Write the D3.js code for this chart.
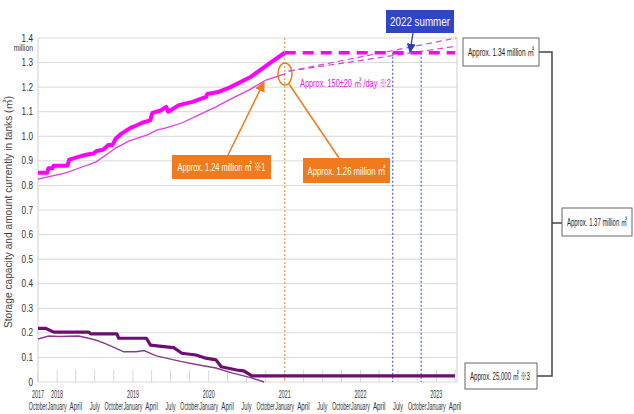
<!DOCTYPE html>
<html><head><meta charset="utf-8">
<script src="https://cdn.jsdelivr.net/npm/d3@7"></script>
<style>
body{margin:0;background:#fff}
svg{display:block}
</style>
</head><body>
<svg id="c" width="634" height="414"></svg>
<script>
// ---------- data ----------
const capacityDates = ["2017-10-01","2017-11-15","2017-11-20","2017-12-10","2017-12-15","2018-02-20","2018-02-28","2018-04-10","2018-05-20","2018-06-25","2018-07-10","2018-08-10","2018-09-05","2018-09-25","2018-10-10","2018-11-05","2018-12-20","2019-01-20","2019-02-15","2019-03-25","2019-04-05","2019-05-15","2019-06-10","2019-06-20","2019-08-10","2019-10-15","2019-12-20","2019-12-25","2020-02-15","2020-04-15","2020-07-20","2020-10-25","2021-01-01"];
const capacityValues = [0.852,0.852,0.87,0.87,0.88,0.88,0.905,0.915,0.925,0.93,0.94,0.945,0.965,0.965,0.99,1.01,1.034,1.045,1.055,1.065,1.095,1.105,1.12,1.10,1.127,1.14,1.16,1.172,1.18,1.20,1.241,1.30,1.34];

const storedDates = ["2017-10-01","2018-02-12","2018-05-01","2018-07-06","2018-08-24","2018-10-10","2018-12-12","2019-01-31","2019-03-18","2019-04-25","2019-06-09","2019-08-24","2019-11-15","2020-02-05","2020-04-20","2020-07-12","2020-10-03","2020-11-01","2021-01-06"];
const storedValues = [0.826,0.851,0.875,0.895,0.924,0.952,0.98,0.995,1.008,1.025,1.034,1.054,1.087,1.12,1.153,1.188,1.229,1.237,1.255];

const planDates = ["2021-01-01","2023-04-01"];
const planValues = [1.34,1.34];

const projDates = ["2021-01-20","2023-04-08"];
const projHighValues = [1.265,1.40];
const projLowValues = [1.265,1.367];

const srCapDates = ["2017-10-01","2017-11-08","2017-12-16","2018-06-03","2018-06-12","2018-10-16","2018-10-25","2019-03-07","2019-03-27","2019-05-19","2019-07-16","2019-08-06","2019-08-24","2019-11-01","2019-12-18","2020-02-05","2020-03-01","2020-05-15","2020-06-18","2020-07-27","2023-04-01"];
const srCapValues = [0.218,0.218,0.203,0.203,0.196,0.196,0.178,0.178,0.15,0.145,0.14,0.128,0.117,0.11,0.097,0.09,0.062,0.049,0.045,0.025,0.025];

const srStoredDates = ["2017-10-01","2017-11-22","2018-01-10","2018-04-15","2018-07-06","2018-08-24","2018-10-10","2018-11-18","2019-01-15","2019-02-24","2019-04-12","2019-05-04","2019-08-24","2019-11-15","2020-02-05","2020-04-21","2020-07-12","2020-09-24"];
const srStoredValues = [0.175,0.187,0.185,0.187,0.171,0.155,0.138,0.123,0.123,0.128,0.11,0.104,0.083,0.069,0.057,0.037,0.02,0.0];

const markerDates = ["2021-01-01","2022-06-05","2022-10-20"];

const yTickValues = [0,0.1,0.2,0.3,0.4,0.5,0.6,0.7,0.8,0.9,1.0,1.1,1.2,1.3,1.4];
const yTickLabels = ["0","0.1","0.2","0.3","0.4","0.5","0.6","0.7","0.8","0.9","1.0","1.1","1.2","1.3","1.4"];
const monthLabels = {0:"January",3:"April",6:"July",9:"October"};
const yAxisTitle = "Storage capacity and amount currently in tanks (㎥)";

// ---------- setup ----------
const FONT = "Liberation Sans, Noto Sans CJK JP, sans-serif";
const parse = d3.timeParse("%Y-%m-%d");
const zip = (ds, vs) => ds.map((d,i)=>({date:parse(d), v:vs[i]}));
const svg = d3.select("#c");
const x = d3.scaleTime().domain([parse("2017-10-01"), parse("2023-04-01")]).range([38, 455]);
const y = d3.scaleLinear().domain([0, 1.4]).range([382, 38]);
const xL = 38, xR = 457;

// narrow text: scaled horizontally so its width equals w (or by factor f)
function ntext(parent, tx, ty, str, size, opts){
  opts = opts || {};
  const t = parent.append("text").attr("font-family",FONT).attr("font-size",size)
    .attr("fill",opts.fill||"#333").attr("text-anchor",opts.anchor||"start").text(str);
  const nat = t.node().getComputedTextLength();
  const f = opts.w ? opts.w/nat : (opts.f||0.75);
  t.attr("transform",`translate(${tx},${ty}) scale(${f},1)`);
  return t;
}

const defs = svg.append("defs");
function marker(id, color){
  defs.append("marker").attr("id",id).attr("viewBox","0 0 10 10").attr("refX",9).attr("refY",5)
    .attr("markerWidth",7).attr("markerHeight",7).attr("orient","auto-start-reverse")
    .append("path").attr("d","M0,0 L10,5 L0,10 z").attr("fill",color);
}
marker("arrO","#F07A1C");
marker("arrB","#2A3FB0");

// gridlines
svg.append("g").selectAll("line").data(yTickValues).join("line")
  .attr("x1",xL).attr("x2",xR).attr("y1",d=>y(d)).attr("y2",d=>y(d))
  .attr("stroke","#d9d9d9").attr("stroke-width",1);
svg.append("line").attr("x1",xL).attr("x2",xL).attr("y1",y(1.4)).attr("y2",y(0)).attr("stroke","#d0d0d0");
svg.append("line").attr("x1",xR).attr("x2",xR).attr("y1",y(1.4)).attr("y2",y(0)).attr("stroke","#d0d0d0");

// y tick labels
const gy = svg.append("g");
yTickValues.forEach((v,i)=>ntext(gy,33,y(v)+3.5,yTickLabels[i],10.5,{anchor:"end",f:0.78}));
ntext(gy,33,y(1.4)+13,"million",9.5,{anchor:"end",f:0.72});

// y title
svg.append("text").attr("transform",`translate(12,${212}) rotate(-90)`).attr("text-anchor","middle")
  .attr("font-family",FONT).attr("font-size",10.2).attr("fill","#444")
  .text(yAxisTitle);

// x ticks
const qTicks = d3.timeMonth.every(3).range(parse("2017-10-01"), parse("2023-04-02"));
svg.append("g").selectAll("line").data(qTicks).join("line")
  .attr("x1",d=>x(d)).attr("x2",d=>x(d)).attr("y1",y(0)-12).attr("y2",y(0))
  .attr("stroke","#d9d9d9");
const gx = svg.append("g");
const mw = {0:19,3:12.5,6:10,9:18.5};
qTicks.forEach((d,i)=>{
  ntext(gx,x(d),410,monthLabels[d.getMonth()],10,{anchor:"middle",w:mw[d.getMonth()]});
  if(i===0 || d.getMonth()===0) ntext(gx,x(d),398,String(d.getFullYear()),10,{anchor:"middle",w:12});
});

// vertical marker lines
svg.append("line").attr("x1",x(parse(markerDates[0]))).attr("x2",x(parse(markerDates[0])))
  .attr("y1",y(1.4)).attr("y2",y(0)).attr("stroke","#F5A04A").attr("stroke-width",1.2).attr("stroke-dasharray","2,2");
[markerDates[1],markerDates[2]].forEach(md=>{
  svg.append("line").attr("x1",x(parse(md))).attr("x2",x(parse(md)))
    .attr("y1",y(1.34)).attr("y2",y(0)).attr("stroke","#4A64E0").attr("stroke-width",1.2).attr("stroke-dasharray","2,2");
});

const line = d3.line().x(d=>x(d.date)).y(d=>y(d.v));

// purple series
svg.append("path").datum(zip(srStoredDates,srStoredValues)).attr("d",line)
  .attr("fill","none").attr("stroke","#8A3A8C").attr("stroke-width",1.4);
svg.append("path").datum(zip(srCapDates,srCapValues)).attr("d",line)
  .attr("fill","none").attr("stroke","#6E0E72").attr("stroke-width",3.2).attr("stroke-linejoin","round");

// magenta series
svg.append("path").datum(zip(projDates,projHighValues)).attr("d",line)
  .attr("fill","none").attr("stroke","#E040E0").attr("stroke-width",1.2).attr("stroke-dasharray","6,4");
svg.append("path").datum(zip(projDates,projLowValues)).attr("d",line)
  .attr("fill","none").attr("stroke","#E040E0").attr("stroke-width",1.2).attr("stroke-dasharray","6,4");
svg.append("path").datum(zip(storedDates,storedValues)).attr("d",line)
  .attr("fill","none").attr("stroke","#E33BE3").attr("stroke-width",1.3);
svg.append("path").datum(zip(capacityDates,capacityValues)).attr("d",line)
  .attr("fill","none").attr("stroke","#FF00FF").attr("stroke-width",4).attr("stroke-linejoin","round");
svg.append("path").datum(zip(planDates,planValues)).attr("d",line)
  .attr("fill","none").attr("stroke","#FF00FF").attr("stroke-width",3.5).attr("stroke-dasharray","11,7");

// orange annotations
const orange = "#F07A1C";
svg.append("ellipse").attr("cx",285).attr("cy",74).attr("rx",7).attr("ry",11)
  .attr("fill","none").attr("stroke",orange).attr("stroke-width",1.5);
svg.append("line").attr("x1",228).attr("y1",155).attr("x2",264).attr("y2",82)
  .attr("stroke",orange).attr("stroke-width",1.5).attr("marker-end","url(#arrO)");
svg.append("line").attr("x1",289).attr("y1",84).attr("x2",339).attr("y2",158)
  .attr("stroke",orange).attr("stroke-width",1.5);

function obox(x0,y0,w,h,txt,tl){
  svg.append("rect").attr("x",x0).attr("y",y0).attr("width",w).attr("height",h).attr("fill",orange);
  ntext(svg,x0+w/2,y0+h/2+4,txt,11.5,{anchor:"middle",w:tl,fill:"#fff"});
}
obox(172,155,99,24,"Approx. 1.24 million ㎥ ※1",88);
obox(303,158,87,25,"Approx. 1.26 million ㎥",78);

// magenta rate label
ntext(svg,300,87,"Approx. 150±20 ㎥ /day ※2",10.5,{w:91,fill:"#E020E0"});

// 2022 summer box
svg.append("rect").attr("x",386).attr("y",10).attr("width",68).attr("height",23).attr("fill","#2F46C4");
ntext(svg,420,26,"2022 summer",12.5,{anchor:"middle",w:60,fill:"#fff"});
svg.append("line").attr("x1",413).attr("y1",33).attr("x2",410).attr("y2",52)
  .attr("stroke","#2A3FB0").attr("stroke-width",1.3).attr("marker-end","url(#arrB)");

// right side bracket and boxes
const br = "#444";
svg.append("path").attr("d","M539,52 H552 V376 H537 M552,223 H562").attr("fill","none").attr("stroke",br).attr("stroke-width",1.5);
function wbox(x0,y0,w,h,txt,tl){
  svg.append("rect").attr("x",x0).attr("y",y0).attr("width",w).attr("height",h)
    .attr("fill","#fff").attr("stroke","#666").attr("stroke-width",1);
  ntext(svg,x0+5,y0+h/2+3.5,txt,10.5,{w:tl,fill:"#222"});
}
wbox(463,38,76,28,"Approx. 1.34 million ㎥",66);
wbox(562,208,70,28,"Approx. 1.37 million ㎥",60);
wbox(465,363,72,26,"Approx. 25,000 ㎥ ※3",60);
</script>
</body></html>
